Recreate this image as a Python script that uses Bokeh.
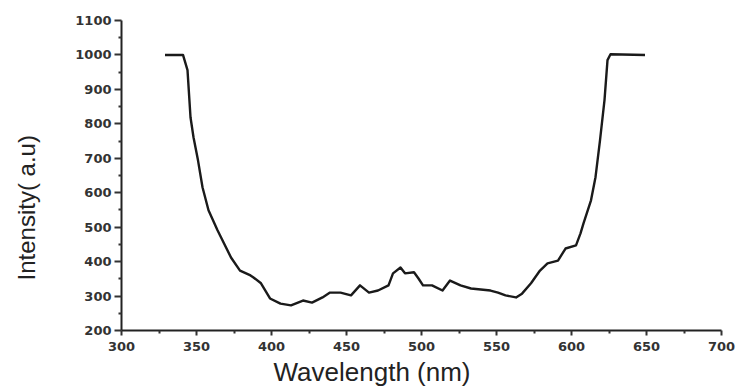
from bokeh.plotting import figure
from bokeh.models import Range1d, FixedTicker, Title
from bokeh.embed import file_html
from bokeh.resources import INLINE

wavelength = [329, 341, 344, 346, 348, 351, 354, 358, 364, 373, 379, 386, 388, 393,
              399, 406, 413, 421, 427, 434, 439, 446, 453, 459, 465, 471, 478, 481,
              486, 489, 495, 498, 501, 507, 514, 519, 526, 533, 546, 551, 556, 563,
              567, 573, 579, 584, 591, 596, 603, 606, 608, 613, 616, 619, 622, 624,
              626, 649]
intensity = [1000, 1000, 956, 819, 761, 694, 616, 549, 491, 412, 374, 360, 354, 337,
             293, 278, 273, 287, 281, 296, 310, 310, 302, 331, 310, 316, 331, 366,
             383, 366, 369, 351, 331, 331, 316, 345, 331, 322, 316, 310, 302, 296,
             307, 337, 374, 395, 403, 438, 447, 482, 511, 578, 645, 752, 869, 985,
             1002, 1000]

x_ticks = [300, 350, 400, 450, 500, 550, 600, 650, 700]
x_minor = [325, 375, 425, 475, 525, 575, 625, 675]
y_ticks = [200, 300, 400, 500, 600, 700, 800, 900, 1000, 1100]
y_minor = [250, 350, 450, 550, 650, 750, 850, 950, 1050]

p = figure(width=738, height=387, output_backend="svg", toolbar_location=None,
           x_range=Range1d(300, 700), y_range=Range1d(200, 1100),
           min_border_left=121, min_border_right=17, min_border_top=20,
           min_border_bottom=57)
p.outline_line_color = None
p.grid.visible = False
p.background_fill_color = "white"
p.border_fill_color = "white"

p.line(wavelength, intensity, line_color="#1a1a1a", line_width=2.4,
       line_join="round")

p.xaxis.ticker = FixedTicker(ticks=x_ticks, minor_ticks=x_minor)
p.yaxis.ticker = FixedTicker(ticks=y_ticks, minor_ticks=y_minor)

for ax in (p.xaxis, p.yaxis):
    ax.axis_line_color = "#222222"
    ax.axis_line_width = 2
    ax.major_tick_line_color = "#333333"
    ax.major_tick_line_width = 2
    ax.minor_tick_line_color = "#333333"
    ax.minor_tick_line_width = 2
    ax.major_tick_in = 0
    ax.minor_tick_in = 0
    ax.major_label_text_font = "DejaVu Sans"
    ax.major_label_text_font_style = "bold"
    ax.major_label_text_font_size = "13px"
    ax.major_label_text_color = "#333333"

p.xaxis.major_tick_out = 5
p.xaxis.minor_tick_out = 3
p.xaxis.major_label_standoff = 6
p.yaxis.major_tick_out = 7
p.yaxis.minor_tick_out = 3
p.yaxis.major_label_standoff = 3

xt = Title(text="Wavelength (nm)", align="left", offset=152, standoff=2,
           text_font="Liberation Sans", text_font_size="26px",
           text_font_style="normal", text_color="#222222")
p.add_layout(xt, "below")

spacer = Title(text=" ", text_font_size="28px", standoff=0)
p.add_layout(spacer, "left")
yt = Title(text="Intensity( a.u)", align="left", offset=50, standoff=0,
           text_font="Liberation Sans", text_font_size="24px",
           text_font_style="normal", text_color="#222222")
p.add_layout(yt, "left")

open("out.html", "w").write(file_html(p, INLINE))
